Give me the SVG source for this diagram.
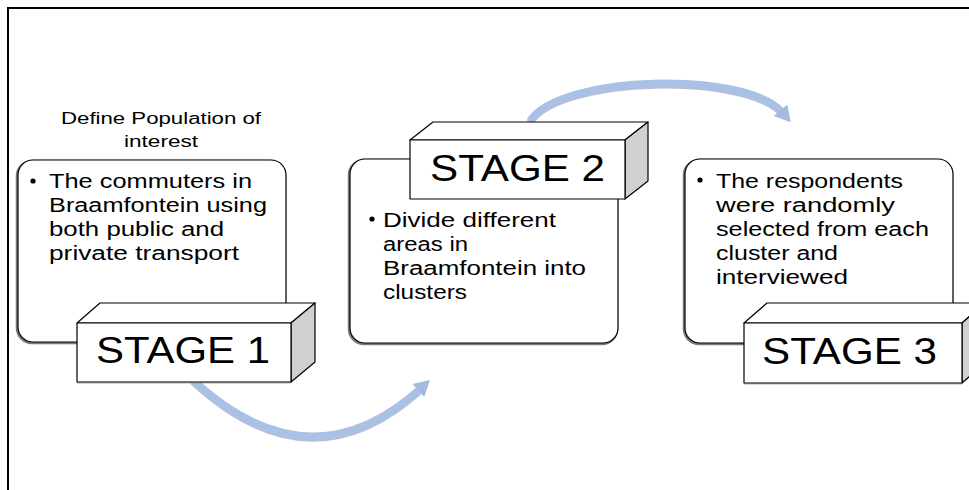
<svg xmlns="http://www.w3.org/2000/svg" width="969" height="490" viewBox="0 0 969 490">
<style>
.t{font-family:"Liberation Sans","Open Sans",sans-serif;fill:#000}
.b{font-size:20px}
.s{font-size:37px}
.h{font-size:16px}
.card{fill:#fff;stroke:#000;stroke-width:1.2}
.cardsh{fill:none;stroke:#7a7a7a;stroke-width:2.5}
.face{fill:#fff;stroke:#000;stroke-width:1.2;stroke-linejoin:round}
.side{fill:#d0d0d0;stroke:#000;stroke-width:1.2;stroke-linejoin:round}
.arc{fill:none;stroke:#a9c1e4;stroke-width:7.5}
.arcsh{fill:none;stroke:#8596b2;stroke-width:7.5;opacity:.6}
</style>
<defs>
<marker id="ah" markerUnits="userSpaceOnUse" markerWidth="20" markerHeight="20" viewBox="0 -9 16 18" refX="2" refY="0" orient="auto">
<path d="M0,-8 L14,0 L0,8 Z" fill="#a3bbe0"/>
</marker>
</defs>
<rect width="969" height="490" fill="#fff"/>
<path d="M8,490 V8 H969" fill="none" stroke="#000" stroke-width="2"/>
<g id="connectors">
<path class="arcsh" d="M193,381.5 Q310,489.5 420,390.5"/>
<path class="arc" d="M193,380 Q310,488 420,389" marker-end="url(#ah)"/>
<path class="arcsh" d="M530,122.5 C560,75.5 747,72.5 782,113.5"/>
<path class="arc" d="M530,121 C560,74 747,71 782,112" marker-end="url(#ah)"/>
</g>
<g id="title">
<text class="t h" x="161" y="124" text-anchor="middle" textLength="200" lengthAdjust="spacingAndGlyphs">Define Population of</text>
<text class="t h" x="161" y="147" text-anchor="middle" textLength="74" lengthAdjust="spacingAndGlyphs">interest</text>
</g>
<g id="card1">
<rect class="cardsh" x="17" y="161" width="268" height="182" rx="15"/>
<rect class="card" x="18" y="160" width="268" height="182" rx="15"/>
<circle cx="33" cy="181" r="2.6"/>
<text class="t b" x="49" y="188" textLength="203" lengthAdjust="spacingAndGlyphs">The commuters in</text>
<text class="t b" x="49" y="212" textLength="218" lengthAdjust="spacingAndGlyphs">Braamfontein using</text>
<text class="t b" x="49" y="236" textLength="175" lengthAdjust="spacingAndGlyphs">both public and</text>
<text class="t b" x="49" y="260" textLength="190" lengthAdjust="spacingAndGlyphs">private transport</text>
</g>
<g id="stage1">
<path class="face" d="M77,323 L100,303 L315,303 L291,323 Z"/>
<path class="side" d="M291,323 L315,303 L315,362 L291,382 Z"/>
<rect class="face" x="77" y="323" width="214" height="59"/>
<line x1="77" y1="382.5" x2="291" y2="382.5" stroke="#666" stroke-width="1.5"/>
<text class="t s" x="96" y="363" textLength="174" lengthAdjust="spacingAndGlyphs">STAGE 1</text>
</g>
<g id="card2">
<rect class="cardsh" x="349" y="160" width="268" height="184" rx="15"/>
<rect class="card" x="350" y="159" width="268" height="184" rx="15"/>
<circle cx="372" cy="219" r="2.6"/>
<text class="t b" x="383" y="227" textLength="173" lengthAdjust="spacingAndGlyphs">Divide different</text>
<text class="t b" x="383" y="251" textLength="85" lengthAdjust="spacingAndGlyphs">areas in</text>
<text class="t b" x="383" y="275" textLength="203" lengthAdjust="spacingAndGlyphs">Braamfontein into</text>
<text class="t b" x="383" y="299" textLength="84" lengthAdjust="spacingAndGlyphs">clusters</text>
</g>
<g id="stage2">
<path class="face" d="M410,140 L433,122 L648,122 L625,140 Z"/>
<path class="side" d="M625,140 L648,122 L648,181 L625,199 Z"/>
<rect class="face" x="410" y="140" width="215" height="59"/>
<text class="t s" x="430" y="181" textLength="175" lengthAdjust="spacingAndGlyphs">STAGE 2</text>
</g>
<g id="card3">
<rect class="cardsh" x="684" y="160" width="268" height="184" rx="15"/>
<rect class="card" x="685" y="159" width="268" height="184" rx="15"/>
<circle cx="700" cy="180" r="2.6"/>
<text class="t b" x="716" y="188" textLength="187" lengthAdjust="spacingAndGlyphs">The respondents</text>
<text class="t b" x="716" y="212" textLength="179" lengthAdjust="spacingAndGlyphs">were randomly</text>
<text class="t b" x="716" y="236" textLength="213" lengthAdjust="spacingAndGlyphs">selected from each</text>
<text class="t b" x="716" y="260" textLength="122" lengthAdjust="spacingAndGlyphs">cluster and</text>
<text class="t b" x="716" y="284" textLength="132" lengthAdjust="spacingAndGlyphs">interviewed</text>
</g>
<g id="stage3">
<path class="face" d="M744,323 L767,303 L985,303 L962,323 Z"/>
<path class="side" d="M962,323 L985,303 L985,363 L962,383 Z"/>
<rect class="face" x="744" y="323" width="218" height="60"/>
<line x1="744" y1="383.5" x2="962" y2="383.5" stroke="#666" stroke-width="1.5"/>
<text class="t s" x="762" y="364" textLength="175" lengthAdjust="spacingAndGlyphs">STAGE 3</text>
</g>
</svg>
